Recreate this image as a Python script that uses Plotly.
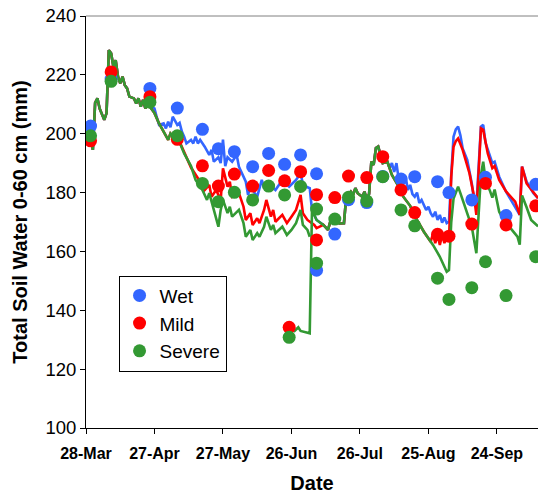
import pandas as pd
import plotly.graph_objects as go

BASE = pd.Timestamp("2005-03-28")

# ---------------- measured points (day offset from 28-Mar, mm) -------------
wet_pt_days = [2, 11, 28, 40, 51, 58, 65, 73, 80, 87, 94, 101, 101, 109, 115, 123, 130, 138, 144, 154, 159, 169, 175, 184, 197]
wet_pt_vals = [202.6, 218.6, 215.4, 208.7, 201.5, 194.9, 193.9, 188.8, 193.3, 189.6, 192.8, 186.4, 153.6, 165.9, 177.6, 176.6, 185.5, 184.6, 185.4, 183.7, 180.0, 177.5, 185.2, 172.2, 182.8]

mild_pt_days = [2, 11, 28, 40, 51, 58, 65, 73, 80, 87, 89, 94, 101, 101, 109, 115, 123, 130, 138, 144, 154, 159, 169, 175, 184, 197]
mild_pt_vals = [197.6, 221.0, 212.6, 198.1, 189.1, 182.2, 186.3, 182.2, 187.5, 184.0, 134.2, 187.1, 179.3, 163.9, 178.3, 185.6, 185.1, 192.2, 180.9, 173.2, 165.8, 165.2, 169.3, 183.1, 169.0, 175.5]

sev_pt_days = [2, 11, 28, 40, 51, 58, 65, 73, 80, 87, 89, 94, 101, 101, 109, 115, 123, 130, 138, 144, 154, 159, 169, 175, 184, 197]
sev_pt_vals = [199.3, 217.8, 210.7, 199.3, 183.1, 176.9, 180.1, 177.5, 182.2, 179.2, 130.8, 182.1, 174.4, 156.0, 171.0, 178.4, 177.1, 185.4, 174.1, 168.7, 150.9, 143.7, 147.7, 156.5, 145.0, 158.2]

# ---------------- simulated lines -----------------------------------------
# shared by all three treatments
start_days = [2, 3, 4, 5, 6, 8, 9, 10, 11, 12, 13, 14, 15, 16, 17, 18, 19, 20, 21, 22, 23, 24, 25, 26, 27, 28]
start_vals = [199.5, 194.5, 210.5, 212.0, 208.5, 204.7, 207.0, 228.4, 227.3, 222.8, 225.0, 219.5, 217.1, 219.4, 216.5, 215.4, 212.6, 212.3, 212.0, 210.3, 212.0, 209.2, 211.5, 208.6, 209.8, 209.2]

# Wet only, late April - late June
wet_mid_days = [30, 31, 32, 34, 35, 36, 37, 38, 40, 41, 42, 43, 44, 46, 47, 48, 49, 50, 52, 54, 55, 56, 58, 59, 60, 61, 62, 64, 66, 67, 70, 71, 72, 75, 77, 78, 80, 83, 86, 89, 92, 94, 95, 97, 98]
wet_mid_vals = [208.6, 205.6, 203.0, 203.5, 201.8, 204.1, 202.2, 205.8, 203.0, 203.7, 200.7, 199.0, 196.7, 197.9, 196.7, 199.0, 196.7, 197.9, 195.6, 192.8, 194.5, 190.5, 192.0, 190.0, 198.0, 189.0, 192.0, 190.5, 192.8, 188.8, 183.7, 179.2, 182.0, 178.6, 184.3, 181.4, 183.0, 180.9, 184.3, 182.0, 184.3, 186.5, 183.0, 181.8, 181.5]

# Mild and Severe together, early May
ms_early_days = [30, 32, 35, 36, 37, 39, 40, 42, 43]
ms_early_vals = [207.0, 203.5, 199.0, 197.9, 200.1, 198.4, 199.0, 195.6, 193.3]

mild_mid_days = [46, 50, 52, 54, 55, 57, 59, 60, 62, 63, 64, 67, 69, 70, 72, 73, 75, 76, 78, 79, 81, 82, 83, 86, 88, 90, 92, 94, 95, 97, 100, 101]
mild_mid_vals = [188.5, 183.7, 180.9, 182.6, 178.6, 180.9, 177.5, 188.2, 182.0, 183.7, 178.6, 179.8, 175.2, 170.7, 173.0, 169.0, 171.3, 169.6, 174.1, 177.5, 171.8, 174.1, 170.1, 172.4, 169.6, 171.8, 174.1, 179.2, 173.0, 170.7, 169.0, 167.9]

sev_mid_days = [46, 48, 51, 53, 54, 56, 58, 59, 60, 62, 63, 64, 67, 69, 70, 72, 73, 75, 76, 78, 79, 81, 82, 83, 86, 88, 90, 92, 94, 95, 97, 98]
sev_mid_vals = [189.0, 184.3, 180.9, 177.5, 179.8, 174.1, 168.4, 174.1, 177.5, 173.0, 175.2, 171.8, 174.1, 169.6, 165.0, 167.3, 163.9, 166.2, 165.0, 168.4, 171.8, 167.3, 169.0, 166.2, 168.4, 165.6, 167.3, 169.6, 174.1, 169.0, 167.3, 165.0]

sev_low_days = [91, 93, 94, 97, 98]
sev_low_vals = [132.7, 134.2, 133.0, 132.5, 132.2]

# shared by all three, July - early August
summer_days = [99, 100, 101, 104, 106, 107, 109, 111, 113, 114, 116, 117, 118, 119, 121, 122, 123, 124, 125, 126, 127, 128, 129, 130, 132, 133]
summer_vals = [174.1, 172.4, 170.7, 169.0, 167.3, 170.1, 170.7, 169.5, 169.6, 178.6, 180.3, 179.2, 181.5, 179.8, 178.6, 180.3, 177.5, 179.5, 190.5, 189.4, 195.1, 195.6, 192.8, 190.0, 190.5, 188.3]

# Mild and Severe together, August
ms_aug_days = [134, 137, 139, 142, 145, 148, 151]
ms_aug_vals = [186.0, 182.0, 178.6, 175.5, 170.7, 166.7, 163.3]

wet_late_days = [134, 135, 136, 137, 138, 140, 141, 142, 143, 144, 145, 146, 147, 148, 149, 150, 151, 152, 153, 154, 155, 156, 157, 158, 159, 160, 161, 162, 163, 164, 165, 167, 169, 170, 171, 173, 174, 175, 176, 178, 179, 181, 184, 187, 190, 191, 193, 196, 198]
wet_late_vals = [190.0, 187.0, 190.0, 184.3, 186.0, 185.4, 180.9, 182.6, 179.5, 178.6, 180.0, 176.5, 177.5, 175.5, 174.1, 175.2, 173.0, 171.8, 173.5, 170.7, 172.4, 169.8, 171.5, 169.6, 170.1, 186.0, 199.0, 201.5, 202.4, 199.5, 195.0, 191.1, 183.1, 177.5, 175.2, 202.4, 203.0, 197.0, 194.5, 190.0, 190.5, 185.4, 180.3, 176.4, 172.4, 188.8, 183.7, 179.8, 178.1]

mild_late_days = [152, 153, 154, 155, 156, 157, 158, 159, 160, 161, 162, 163, 164, 165, 168, 170, 171, 173, 174, 176, 178, 179, 181, 184, 188, 190, 191, 193, 198]
mild_late_vals = [166.0, 162.8, 165.6, 162.2, 165.6, 162.8, 165.0, 163.5, 185.4, 195.6, 197.5, 198.4, 196.5, 194.5, 186.5, 178.6, 172.4, 201.8, 201.3, 193.3, 188.3, 189.0, 184.3, 180.4, 176.9, 172.4, 188.8, 183.1, 178.1]

sev_late_days = [152, 155, 157, 158, 159, 160, 161, 163, 164, 166, 169, 171, 172, 173, 174, 175, 177, 178, 179, 181, 183, 186, 189, 190, 191, 193, 195, 198]
sev_late_vals = [162.2, 158.2, 154.8, 153.1, 153.7, 170.0, 178.0, 182.0, 179.8, 175.2, 168.4, 159.4, 175.0, 186.0, 190.5, 184.3, 180.5, 178.3, 181.0, 173.5, 170.7, 168.0, 165.0, 162.3, 179.0, 175.0, 170.7, 168.5]

SERIES = ["Wet", "Mild", "Severe"]
COLORS = {"Wet": "#3366FF", "Mild": "#FF0000", "Severe": "#339933"}


def to_dates(days):
    return [BASE + pd.Timedelta(days=d) for d in days]


def join(*parts):
    xs, ys = [], []
    for p in parts:
        if p is None:
            xs.append(None)
            ys.append(None)
            continue
        d, v = p
        xs += to_dates(d)
        ys += list(v)
    return xs, ys


lines = {
    "Wet": join((start_days, start_vals), (wet_mid_days, wet_mid_vals),
                (summer_days, summer_vals), (wet_late_days, wet_late_vals)),
    "Mild": join((start_days, start_vals), (ms_early_days, ms_early_vals),
                 (mild_mid_days, mild_mid_vals), (summer_days[3:], summer_vals[3:]),
                 (ms_aug_days, ms_aug_vals), (mild_late_days, mild_late_vals)),
    "Severe": join((start_days, start_vals), (ms_early_days, ms_early_vals),
                   (sev_mid_days, sev_mid_vals), None,
                   (sev_low_days, sev_low_vals), (summer_days, summer_vals),
                   (ms_aug_days, ms_aug_vals), (sev_late_days, sev_late_vals)),
}
points = {
    "Wet": (wet_pt_days, wet_pt_vals),
    "Mild": (mild_pt_days, mild_pt_vals),
    "Severe": (sev_pt_days, sev_pt_vals),
}

FONT = "Liberation Sans, Arial, sans-serif"
fig = go.Figure()
for s in SERIES:
    xs, ys = lines[s]
    fig.add_trace(go.Scatter(x=xs, y=ys, mode="lines", showlegend=False,
                             connectgaps=False,
                             line=dict(color=COLORS[s], width=2.6), hoverinfo="skip"))
for s in SERIES:
    d, v = points[s]
    fig.add_trace(go.Scatter(x=to_dates(d), y=v, mode="markers", name=s,
                             marker=dict(color=COLORS[s], size=13, line=dict(width=0))))

fig.update_layout(
    width=538, height=494,
    margin=dict(l=86, r=0, t=16, b=66),
    plot_bgcolor="white", paper_bgcolor="white",
    font=dict(family=FONT, color="black", size=18),
    legend=dict(x=0.072, y=0.37, xanchor="left", yanchor="top",
                bordercolor="black", borderwidth=1, bgcolor="white",
                font=dict(size=19, family=FONT), itemwidth=30,
                tracegroupgap=0),
    shapes=[dict(type="line", xref="paper", yref="paper", x0=0, x1=1, y0=1, y1=1,
                 line=dict(color="#808080", width=1))],
)
fig.update_xaxes(
    type="date", range=[BASE, BASE + pd.Timedelta(days=198)],
    tick0=BASE, dtick=30 * 86400000, tickformat="%-d-%b",
    showgrid=False, zeroline=False, showline=True, linecolor="black", linewidth=1,
    ticks="outside", ticklen=5, tickcolor="black", automargin=False,
    ticklabelstandoff=6,
    tickfont=dict(size=16, family=FONT, weight="bold"),
    title=dict(text="<b>Date</b>", font=dict(size=20, family=FONT), standoff=22),
)
fig.update_yaxes(
    range=[100, 240], dtick=20, showgrid=False, zeroline=False,
    showline=True, linecolor="black", linewidth=1, automargin=False,
    ticks="outside", ticklen=5, tickcolor="black",
    tickfont=dict(size=18.5, family=FONT),
    title=dict(text="<b>Total Soil Water 0-60 cm (mm)</b>", font=dict(size=20, family=FONT), standoff=12),
)

fig.write_html("out.html")
